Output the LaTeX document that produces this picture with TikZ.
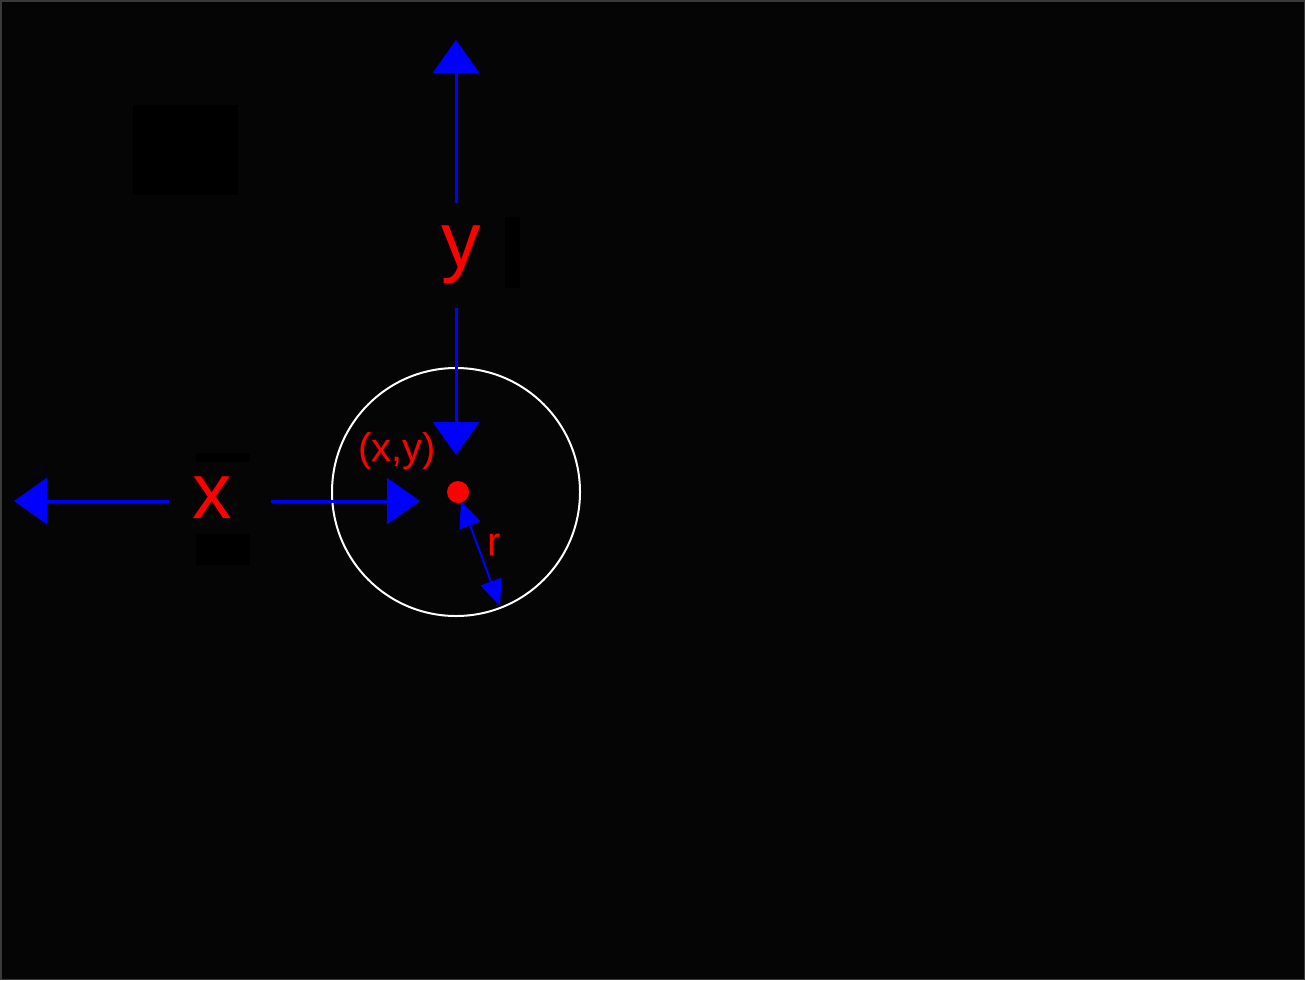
\documentclass[tikz,border=0pt]{standalone}
\usepackage{fontspec}
\setmainfont{Liberation Sans}
\usetikzlibrary{arrows.meta}
\definecolor{bgc}{HTML}{050505}
\definecolor{bl}{HTML}{0000FF}
\definecolor{rd}{HTML}{FF0000}
\definecolor{framec}{HTML}{3A3A3A}
\tikzset{
  axisline/.style={draw=bl, line width=3pt, -{Triangle[length=33pt,width=46pt]}},
  rline/.style={draw=bl, line width=2pt, {Triangle[length=26pt,width=22pt]}-{Triangle[length=26pt,width=22pt]}},
  biglab/.style={text=rd, font=\fontsize{79}{79}\selectfont, inner sep=0pt},
  smalllab/.style={text=rd, font=\fontsize{40}{40}\selectfont, inner sep=0pt},
  hidebox/.style={fill=black, draw=none}
}
\begin{document}
\begin{tikzpicture}[x=1pt,y=-1pt]
\useasboundingbox (0,0) rectangle (1305,980);
\fill[bgc] (0,0) rectangle (1305,980);
\draw[framec, line width=1.5pt] (0.75,0.75) rectangle (1304.25,979.25);
% hidden black boxes
\fill[hidebox] (133,105) rectangle (238,195);
\fill[hidebox] (505,217) rectangle (520,288);
\fill[hidebox] (196,453) rectangle (250,462);
\fill[hidebox] (196,534) rectangle (250,565);
% circle
\draw[white, line width=2pt] (456,492) circle[radius=124];
% labels
\node[biglab] (ylab) at (461,255) {y};
\node[biglab] (xlab) at (212,498) {x};
\node[smalllab] (pt) at (397,451) {(x,y)};
\node[smalllab] (rlab) at (494,545) {r};
% coordinates
\coordinate (ytop) at (456,40);
\coordinate (yup) at (456,203);
\coordinate (ydn) at (456,308);
\coordinate (ytip) at (456,455);
\coordinate (xleft) at (14,501);
\coordinate (xl) at (169,501);
\coordinate (xr) at (271,501);
\coordinate (xtip) at (420,501);
\coordinate (ra) at (461,501);
\coordinate (rb) at (500,606);
% arrows
\draw[axisline] (yup) -- (ytop);
\draw[axisline] (ydn) -- (ytip);
\draw[axisline] (xl) -- (xleft);
\draw[axisline] (xr) -- (xtip);
\draw[rline] (ra) -- (rb);
% center dot
\fill[rd] (458,492) circle[radius=11] node (c) {};
\end{tikzpicture}
\end{document}
